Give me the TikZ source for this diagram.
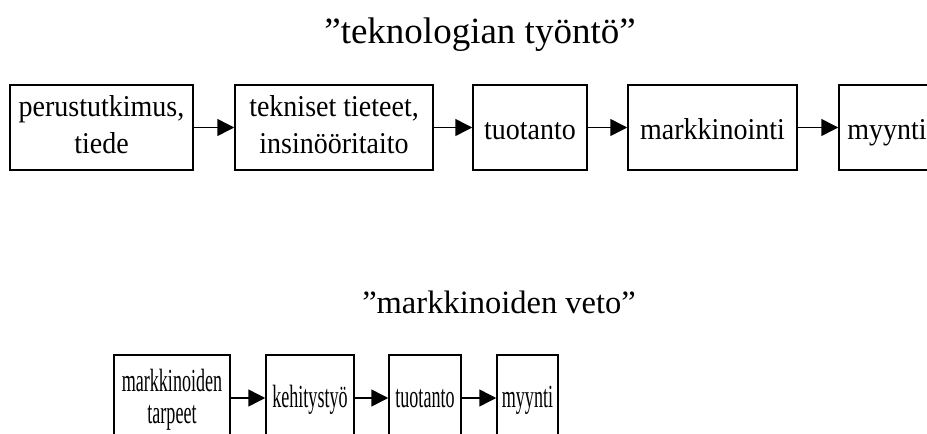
\documentclass[tikz,border=0pt]{standalone}
\usepackage{fontspec}
\usepackage{graphicx}
\setmainfont{Liberation Serif}
\usetikzlibrary{arrows.meta}

% stage labels: upper chain slightly tall, lower chain condensed
\newcommand{\uppertext}[1]{\scalebox{1}[1.08]{\begin{tabular}{@{}c@{}}#1\end{tabular}}}
\newcommand{\lowertext}[1]{\raisebox{-3pt}[\height][\depth]{\scalebox{0.645}[1.15]{\begin{tabular}{@{}c@{}}#1\end{tabular}}}}

\tikzset{
  stagebox/.style={draw, line width=1.5pt, inner sep=0pt, minimum height=85pt,
    font=\fontsize{28}{34}\selectfont},
  lowbox/.style={draw, line width=1.5pt, inner sep=0pt, minimum height=86pt,
    font=\fontsize{28}{27.5}\selectfont},
  oneline/.style={text height=#1, text depth=0pt},
  flow/.style={line width=1.5pt, -{Triangle[length=17pt,width=17pt]}},
  heading/.style={inner sep=0pt, anchor=base}
}

\begin{document}
\begin{tikzpicture}[x=1pt,y=-1pt]
  \useasboundingbox (0,0) rectangle (927,434);

  % technology push
  \node[heading, font=\fontsize{37}{42}\selectfont] (push) at (480,43) {”teknologian työntö”};
  \node[stagebox, minimum width=183pt] (p1) at (101.5,127.5) {\uppertext{perustutkimus,\\tiede}};
  \node[stagebox, minimum width=198pt] (p2) at (334,127.5) {\uppertext{tekniset tieteet,\\insinööritaito}};
  \node[stagebox, oneline=23pt, minimum width=114pt] (p3) at (530,127.5) {\scalebox{1}[1.08]{tuotanto}};
  \node[stagebox, oneline=23pt, minimum width=169pt] (p4) at (712.5,127.5) {\scalebox{1}[1.08]{markkinointi}};
  \node[stagebox, oneline=23pt, minimum width=96pt] (p5) at (887,127.5) {\scalebox{1}[1.08]{myynti}};
  \draw[flow] (p1) -- (p2);
  \draw[flow] (p2) -- (p3);
  \draw[flow] (p3) -- (p4);
  \draw[flow] (p4) -- (p5);

  % market pull
  \node[heading, font=\fontsize{32.5}{38}\selectfont] (pull) at (499,313) {”markkinoiden veto”};
  \node[lowbox, minimum width=116pt] (m1) at (172,398) {\lowertext{markkinoiden\\tarpeet}};
  \node[lowbox, oneline=19.5pt, minimum width=88pt] (m2) at (310,398) {\scalebox{0.645}[1.15]{kehitystyö}};
  \node[lowbox, oneline=19.5pt, minimum width=72pt] (m3) at (425,398) {\scalebox{0.645}[1.15]{tuotanto}};
  \node[lowbox, oneline=19.5pt, minimum width=61pt] (m4) at (527.5,398) {\scalebox{0.645}[1.15]{myynti}};
  \draw[flow] (m1) -- (m2);
  \draw[flow] (m2) -- (m3);
  \draw[flow] (m3) -- (m4);
\end{tikzpicture}
\end{document}
